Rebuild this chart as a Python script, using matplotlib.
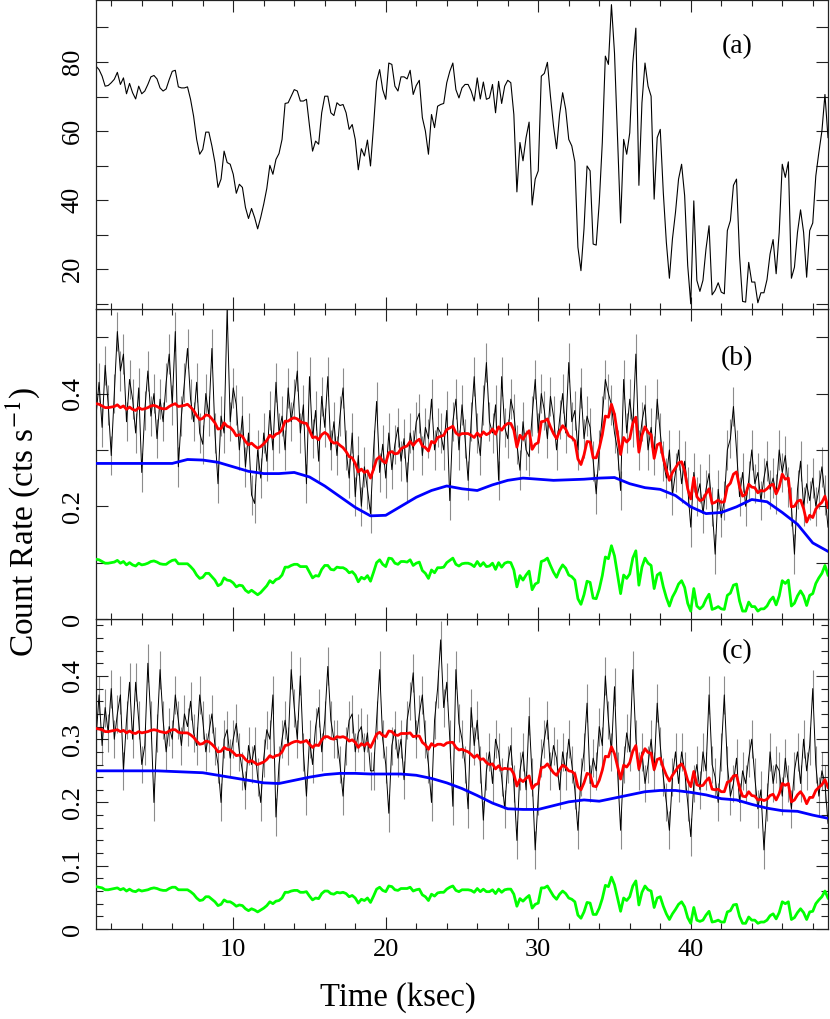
import numpy as np
import matplotlib
matplotlib.use("Agg")
import matplotlib.pyplot as plt
from matplotlib.ticker import MultipleLocator, FixedLocator

plt.rcParams['font.family'] = ['Liberation Serif', 'DejaVu Serif']
plt.rcParams['mathtext.fontset'] = 'stix'

# time bins: 0.2 ksec starting at 1.0 ksec; smooth model sampled every 1 ksec
BIN = 0.2
T0 = 1.0

# panel (a): count rate, 0.2 ksec bins
rate_a = [
    78.8, 77.8, 75.9, 73, 73.2, 74, 75, 77, 73.5, 75.4,
    70.8, 73.8, 71.1, 69.3, 73, 70.8, 71.6, 73.5, 75.7, 76.1,
    75.1, 72.5, 71.6, 72.2, 74.9, 77.3, 77.6, 72.8, 72.5, 72.5,
    72.8, 69.2, 64.3, 57.6, 53.3, 54.7, 59.7, 59.7, 55.7, 50.9,
    43.7, 46.1, 54.2, 50.9, 50.4, 47.5, 42, 44.6, 43.7, 37.9,
    34.7, 37.6, 35, 31.7, 35, 38.9, 43.4, 50.1, 47.5, 51.8,
    53.5, 57.6, 68, 68.2, 70.1, 72, 71.6, 68.7, 68.7, 69.2,
    61.5, 54.2, 57.1, 56.2, 65.3, 70.1, 70.1, 65.3, 64.5, 68.2,
    67.4, 67.7, 65.3, 60.5, 61.9, 57.6, 48.8, 54.9, 52.8, 57.4,
    49.9, 61.5, 74.4, 77.8, 72, 69.2, 79.7, 79.3, 73, 71.6,
    75.7, 75.7, 75.1, 77.6, 70.6, 73.2, 74.7, 63.9, 60, 53.3,
    64.8, 61, 67.2, 67.7, 68, 74, 77.3, 79.7, 72, 69.6,
    72.5, 73.5, 73.5, 71.6, 68.7, 75.4, 69.3, 74.2, 69.2, 69.6,
    73.5, 65.3, 74.4, 68, 73, 74.7, 74, 64.8, 42.4, 56.7,
    51.4, 58.1, 62.6, 38.6, 46.1, 48.5, 75.9, 76.7, 79.9, 70.1,
    61.5, 54.9, 64.8, 71.1, 66.3, 57.6, 55.7, 51.1, 26.4, 19.6,
    31.7, 49.9, 48.5, 27.3, 27, 39.3, 56.7, 81.7, 79.3, 96.6,
    82.6, 57.6, 33.4, 57.6, 53.3, 59.5, 79.7, 89.8, 44.3, 68.2,
    79.7, 73, 70.1, 40.3, 58.1, 60.5, 42.2, 27.8, 17.4, 28.8,
    36.5, 46.1, 50.4, 41.3, 21.1, 10, 39.8, 16.8, 13.6, 16.8,
    25.9, 32.6, 12.6, 13.9, 16.1, 13.4, 12.9, 31.2, 34.1, 44.3,
    46.1, 24, 10.7, 10.5, 22, 16.3, 16.3, 10.3, 13.2, 13.2,
    17, 24.4, 28.6, 18.7, 30.7, 50.4, 46.6, 51.1, 17.4, 20.6,
    30.7, 37.2, 30.7, 17.7, 31.2, 33.4, 47, 53.8, 60, 70.6,
    58.1,
]

# panel (b), values in 1e-3 cts/s
obs_b = [
    360, 420, 340, 450, 380, 290, 400, 510, 440, 470,
    350, 425, 390, 330, 410, 260, 370, 440, 360, 400,
    320, 390, 350, 420, 470, 380, 510, 270, 360, 420,
    480, 390, 350, 420, 330, 310, 400, 360, 480, 330,
    240, 360, 330, 550, 350, 410, 380, 300, 360, 270,
    330, 220, 205, 300, 250, 330, 280, 370, 300, 420,
    330, 360, 300, 410, 350, 390, 440, 330, 380, 240,
    430, 320, 370, 280, 395, 340, 430, 300, 350, 290,
    360, 410, 300, 250, 330, 217, 290, 200, 270, 230,
    187, 300, 386, 260, 310, 250, 330, 265, 310, 340,
    280, 320, 243, 330, 300, 350, 365, 290, 340, 320,
    390, 300, 340, 330, 300, 370, 210, 350, 390, 300,
    380, 320, 246, 350, 430, 330, 290, 380, 455, 350,
    330, 380, 246, 430, 340, 320, 390, 365, 310, 264,
    350, 300, 288, 360, 425, 330, 400, 370, 320, 395,
    360, 300, 354, 400, 330, 455, 350, 370, 300, 410,
    320, 360, 340, 280, 222, 300, 360, 425, 400, 380,
    330, 300, 228, 425, 330, 390, 340, 470, 300, 350,
    380, 300, 340, 290, 390, 330, 280, 250, 300, 220,
    260, 300, 240, 280, 234, 163, 260, 217, 240, 187,
    230, 258, 200, 115, 230, 180, 210, 300, 320, 377,
    300, 217, 260, 200, 246, 300, 240, 260, 210, 250,
    280, 230, 250, 222, 300, 260, 290, 234, 200, 115,
    230, 280, 200, 240, 210, 250, 200, 230, 270, 220,
    163,
]
total_b = [
    382, 381, 378, 375, 375, 376, 377, 380, 375, 378,
    372, 376, 372, 370, 375, 372, 373, 375, 378, 379,
    377, 374, 373, 373, 377, 380, 382, 377, 378, 379,
    381, 376, 370, 361, 354, 356, 362, 361, 355, 348,
    337, 338, 348, 342, 340, 334, 325, 327, 324, 315,
    309, 312, 307, 303, 306, 311, 317, 326, 322, 328,
    330, 336, 351, 351, 355, 357, 355, 350, 348, 347,
    335, 322, 323, 318, 327, 331, 327, 316, 312, 313,
    308, 304, 297, 288, 286, 276, 261, 266, 260, 263,
    250, 266, 283, 288, 280, 277, 295, 297, 293, 294,
    302, 305, 307, 315, 308, 315, 319, 307, 304, 298,
    315, 312, 322, 324, 326, 336, 339, 342, 330, 326,
    329, 329, 329, 326, 322, 330, 324, 332, 327, 330,
    337, 328, 341, 335, 343, 347, 347, 335, 305, 326,
    319, 328, 334, 301, 310, 313, 350, 351, 355, 341,
    329, 320, 333, 343, 337, 325, 322, 316, 284, 274,
    291, 315, 314, 286, 286, 303, 327, 360, 358, 381,
    363, 327, 292, 322, 314, 320, 347, 358, 296, 326,
    341, 331, 327, 285, 309, 312, 285, 264, 246, 260,
    268, 277, 279, 263, 231, 213, 251, 217, 210, 212,
    222, 231, 205, 207, 211, 207, 208, 235, 241, 257,
    261, 234, 218, 221, 239, 234, 233, 224, 228, 227,
    231, 237, 239, 222, 234, 257, 248, 250, 199, 200,
    209, 211, 196, 172, 184, 180, 195, 202, 207, 218,
    198,
]
source_b = [
    106, 105, 102, 99, 99, 100, 101, 104, 99, 102,
    96, 100, 96, 94, 99, 96, 97, 99, 102, 103,
    101, 98, 97, 97, 101, 104, 105, 98, 98, 98,
    98, 93, 87, 78, 72, 74, 81, 81, 75, 69,
    59, 62, 73, 69, 68, 64, 57, 60, 59, 51,
    47, 51, 47, 43, 47, 53, 59, 68, 64, 70,
    72, 78, 92, 92, 95, 97, 97, 93, 93, 93,
    83, 73, 77, 76, 88, 95, 95, 88, 87, 92,
    91, 91, 88, 82, 84, 78, 66, 74, 71, 77,
    67, 83, 100, 105, 97, 93, 108, 107, 99, 97,
    102, 102, 101, 105, 95, 99, 101, 86, 81, 72,
    87, 82, 91, 91, 92, 100, 104, 108, 97, 94,
    98, 99, 99, 97, 93, 102, 94, 100, 93, 94,
    99, 88, 100, 92, 99, 101, 100, 87, 57, 77,
    69, 78, 85, 52, 62, 65, 102, 104, 108, 95,
    83, 74, 87, 96, 90, 78, 75, 69, 36, 26,
    43, 67, 65, 37, 36, 53, 77, 110, 107, 130,
    112, 78, 45, 78, 72, 80, 108, 121, 60, 92,
    108, 99, 95, 54, 78, 82, 57, 38, 23, 39,
    49, 62, 68, 56, 28, 14, 54, 23, 18, 23,
    35, 44, 17, 19, 22, 18, 17, 42, 46, 60,
    62, 32, 14, 14, 30, 22, 22, 14, 18, 18,
    23, 33, 39, 25, 41, 68, 63, 69, 23, 28,
    41, 50, 41, 24, 42, 45, 63, 73, 81, 95,
    78,
]
bkg_b = [
    276, 276, 276, 276, 276, 276, 283, 282, 278, 270,
    262, 258, 258, 260, 252, 236, 217, 198, 183, 184,
    200, 216, 228, 236, 231, 228, 238, 246, 250, 248,
    246, 247, 248, 250, 251, 240, 233, 230, 219, 199,
    187, 189, 199, 212, 208, 189, 168, 135, 120,
]

# panel (c), values in 1e-3 cts/s
obs_c = [
    300, 370, 290, 350, 310, 380, 300, 340, 370, 250,
    330, 390, 300, 390, 330, 260, 290, 420, 330, 200,
    310, 410, 330, 280, 320, 300, 370, 330, 290, 340,
    320, 360, 310, 290, 370, 330, 280, 310, 340, 290,
    260, 200, 300, 315, 270, 300, 325, 280, 250, 220,
    290, 260, 290, 240, 200, 270, 315, 300, 370, 177,
    260, 300, 330, 290, 410, 350, 300, 400, 280, 210,
    300, 260, 320, 350, 280, 330, 415, 330, 300, 300,
    260, 210, 290, 330, 340, 280, 310, 320, 280, 310,
    250, 250, 330, 410, 300, 260, 183, 290, 315, 270,
    300, 236, 330, 360, 405, 300, 340, 370, 300, 260,
    200, 330, 380, 457, 350, 390, 300, 194, 410, 325,
    300, 260, 190, 350, 290, 330, 260, 172, 250, 280,
    230, 300, 280, 240, 190, 260, 290, 230, 140, 250,
    280, 220, 336, 240, 125, 210, 270, 300, 330, 250,
    290, 270, 220, 280, 250, 300, 260, 220, 156, 240,
    280, 357, 230, 270, 250, 320, 290, 400, 330, 280,
    383, 250, 156, 260, 310, 280, 410, 300, 250, 280,
    230, 260, 300, 250, 357, 290, 240, 200, 156, 240,
    280, 230, 280, 250, 200, 146, 230, 260, 220, 280,
    250, 370, 260, 240, 200, 280, 370, 260, 210, 230,
    270, 200, 250, 230, 270, 300, 240, 190, 220, 125,
    200, 280, 230, 260, 250, 210, 270, 230, 190, 250,
    280, 230, 300, 250, 290, 380, 260, 210, 250, 230,
    167,
]
total_c = [
    317, 316, 315, 312, 312, 313, 314, 315, 312, 314,
    310, 313, 310, 309, 312, 310, 311, 312, 314, 315,
    314, 312, 311, 310, 313, 315, 315, 311, 310, 310,
    310, 307, 303, 297, 292, 293, 297, 296, 292, 287,
    280, 281, 287, 284, 283, 279, 274, 275, 274, 268,
    264, 266, 263, 260, 262, 264, 268, 274, 271, 274,
    275, 280, 290, 291, 294, 296, 297, 295, 296, 298,
    292, 287, 291, 290, 299, 304, 304, 301, 300, 304,
    303, 304, 302, 297, 299, 295, 287, 293, 290, 294,
    287, 297, 308, 311, 306, 304, 313, 312, 307, 306,
    309, 309, 309, 310, 304, 305, 305, 295, 291, 284,
    293, 289, 292, 292, 290, 294, 295, 295, 287, 283,
    284, 282, 280, 276, 271, 275, 268, 269, 263, 260,
    261, 253, 258, 252, 254, 253, 253, 245, 226, 237,
    233, 238, 242, 222, 228, 230, 255, 256, 261, 254,
    247, 243, 252, 259, 256, 250, 249, 245, 225, 220,
    231, 246, 244, 226, 225, 235, 251, 273, 272, 288,
    277, 257, 237, 259, 256, 263, 281, 290, 253, 274,
    285, 279, 278, 252, 268, 270, 255, 243, 234, 243,
    250, 257, 261, 252, 235, 225, 249, 228, 226, 227,
    234, 239, 221, 220, 221, 217, 217, 232, 234, 242,
    243, 223, 210, 209, 217, 211, 210, 204, 205, 203,
    205, 211, 213, 204, 214, 230, 227, 230, 201, 204,
    212, 217, 210, 198, 208, 208, 219, 224, 228, 236,
    224,
]
source_c = [
    67, 66, 65, 62, 62, 63, 64, 65, 62, 64,
    60, 63, 60, 59, 62, 60, 61, 62, 64, 65,
    64, 62, 61, 61, 64, 66, 66, 62, 62, 62,
    62, 59, 55, 49, 45, 46, 51, 51, 47, 43,
    37, 39, 46, 43, 43, 40, 36, 38, 37, 32,
    29, 32, 30, 27, 30, 33, 37, 43, 40, 44,
    45, 49, 58, 58, 60, 61, 61, 58, 58, 59,
    52, 46, 49, 48, 56, 60, 60, 56, 55, 58,
    57, 58, 56, 51, 53, 49, 41, 47, 45, 49,
    42, 52, 63, 66, 61, 59, 68, 67, 62, 61,
    64, 64, 64, 66, 60, 62, 63, 54, 51, 45,
    55, 52, 57, 58, 58, 63, 66, 68, 61, 59,
    62, 62, 62, 61, 58, 64, 59, 63, 59, 59,
    62, 56, 63, 58, 62, 63, 63, 55, 36, 48,
    44, 49, 53, 33, 39, 41, 65, 65, 68, 60,
    52, 47, 55, 60, 56, 49, 47, 43, 22, 17,
    27, 42, 41, 23, 23, 33, 48, 69, 67, 82,
    70, 49, 28, 49, 45, 51, 68, 76, 38, 58,
    68, 62, 60, 34, 49, 51, 36, 24, 15, 24,
    31, 39, 43, 35, 18, 9, 34, 14, 12, 14,
    22, 28, 11, 12, 14, 11, 11, 27, 29, 38,
    39, 20, 9, 9, 19, 14, 14, 9, 11, 11,
    14, 21, 24, 16, 26, 43, 40, 43, 15, 18,
    26, 32, 26, 15, 27, 28, 40, 46, 51, 60,
    49,
]
bkg_c = [
    250, 250, 250, 250, 250, 249, 248, 247, 243, 239,
    235, 231, 230, 235, 240, 244, 246, 246, 245, 245,
    245, 243, 238, 231, 222, 211, 199, 190, 189, 189,
    195, 201, 204, 202, 207, 212, 217, 219, 219, 216,
    212, 206, 204, 197, 191, 187, 186, 180, 175,
]

ERR_B = 35  # typical 1-sigma error, 1e-3 cts/s
ERR_C = 30


def grid(vals, step=BIN):
    return T0 + step * np.arange(len(vals))


def milli(vals):
    return np.asarray(vals, dtype=float) / 1000.0


def style_axis(ax, ylim, ymajor, yminor, ylabels, yminor_len):
    ax.set_xlim(1.0, 49.0)
    ax.set_ylim(*ylim)
    ax.xaxis.set_major_locator(FixedLocator([10, 20, 30, 40]))
    ax.xaxis.set_minor_locator(MultipleLocator(2))
    ax.set_yticks(ymajor)
    ax.set_yticklabels(ylabels)
    ax.yaxis.set_minor_locator(FixedLocator(yminor))
    ax.tick_params(which='both', direction='in', top=True, right=True,
                   width=0.8, color='#222222')
    ax.tick_params(axis='x', which='major', length=8.5, pad=7, labelsize=19)
    ax.tick_params(axis='x', which='minor', length=4.5)
    ax.tick_params(axis='y', which='major', length=8.5, pad=9, labelsize=19,
                   labelrotation=90)
    ax.tick_params(axis='y', which='minor', length=yminor_len)
    for lab in ax.get_yticklabels():
        lab.set_va('center')
    for sp in ax.spines.values():
        sp.set_linewidth(0.9)
        sp.set_color('#222222')


fig = plt.figure(figsize=(8.30, 10.19), dpi=100)
left, width = 96 / 830, 732 / 830
h = 310 / 1019
b_c = 1 - 929 / 1019
ax_c = fig.add_axes([left, b_c, width, h])
ax_b = fig.add_axes([left, b_c + h, width, h], sharex=ax_c)
ax_a = fig.add_axes([left, b_c + 2 * h, width, h - 0.0008], sharex=ax_c)

# (a)
ax_a.plot(grid(rate_a), rate_a, color='black', lw=0.8)
style_axis(ax_a, (8.5, 98), [20, 40, 60, 80], [10, 30, 50, 70, 90],
           ['20', '40', '60', '80'], 8.5)
ax_a.text(0.876, 0.85, '(a)', transform=ax_a.transAxes, ha='center',
          va='center', fontsize=20)

# (b) and (c)
for ax, obs, err, tot, src, bkg in [(ax_b, obs_b, ERR_B, total_b, source_b, bkg_b),
                                    (ax_c, obs_c, ERR_C, total_c, source_c, bkg_c)]:
    t = grid(obs)
    y = milli(obs)
    ax.vlines(t, y - err / 1000.0, y + err / 1000.0, color='0.55', lw=0.8, zorder=1)
    ax.plot(t, y, color='black', lw=0.7, zorder=2)
    ax.plot(grid(bkg, 1.0), milli(bkg), color='#0000ff', lw=2.0, zorder=3)
    ax.plot(grid(tot), milli(tot), color='#ff0000', lw=2.0, zorder=4)
    ax.plot(grid(src), milli(src), color='#00ff00', lw=2.0, zorder=4)

style_axis(ax_b, (0, 0.55), [0, 0.2, 0.4], [0.1, 0.3, 0.5],
           ['0', '0.2', '0.4'], 8.5)
ax_b.text(0.876, 0.84, '(b)', transform=ax_b.transAxes, ha='center',
          va='center', fontsize=20)

style_axis(ax_c, (0, 0.49), [0, 0.1, 0.2, 0.3, 0.4],
           [0.02, 0.04, 0.06, 0.08, 0.12, 0.14, 0.16, 0.18, 0.22, 0.24,
            0.26, 0.28, 0.32, 0.34, 0.36, 0.38, 0.42, 0.44, 0.46, 0.48],
           ['0', '0.1', '0.2', '0.3', '0.4'], 5)
ax_c.text(0.876, 0.894, '(c)', transform=ax_c.transAxes, ha='center',
          va='center', fontsize=20)

plt.setp(ax_a.get_xticklabels(), visible=False)
plt.setp(ax_b.get_xticklabels(), visible=False)

fig.text(398 / 830, 0.021, 'Time (ksec)', ha='center', va='center', fontsize=23.5)
fig.text(0.027, 0.488, 'Count Rate (cts s$^{-1}$)', rotation=90,
         ha='center', va='center', fontsize=24)

fig.savefig('out.png', dpi=100)
plt.close(fig)
